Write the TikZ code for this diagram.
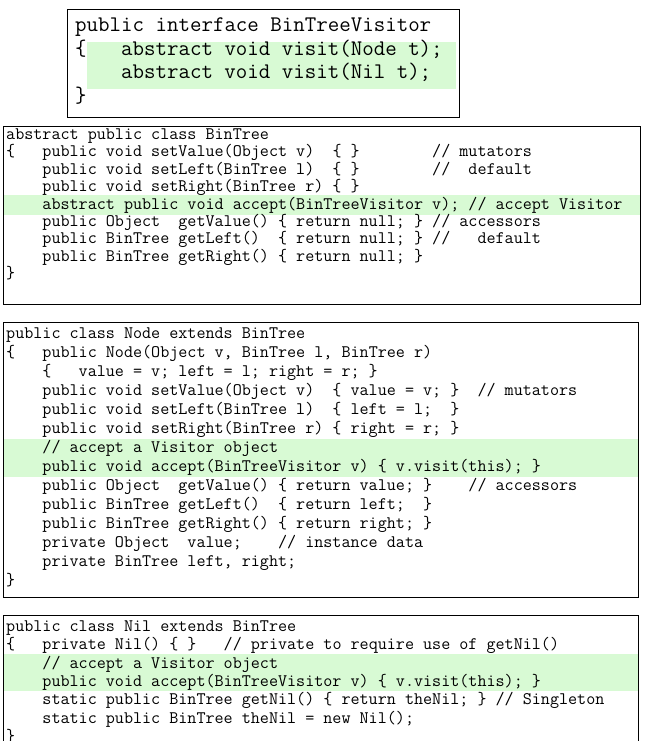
\documentclass[tikz,border=0pt]{standalone}
\usepackage{fontspec}
\definecolor{hlgreen}{RGB}{216,250,212}
\tikzset{
  codebox/.style={draw=black, line width=0.9pt},
  hlband/.style={fill=hlgreen, draw=none},
  code/.style={anchor=base west, inner sep=0pt, font=\fontsize{17.6}{19}\selectfont\ttfamily},
  bigcode/.style={anchor=base west, inner sep=0pt, font=\fontsize{22.3}{23.5}\selectfont\ttfamily},
}
\begin{document}
\begin{tikzpicture}[x=1pt,y=-1pt]
\useasboundingbox (0,0) rectangle (645,741);
% ---------- Box 1: BinTreeVisitor ----------
\fill[hlband] (87,42) rectangle (456,89);
\draw[codebox] (67,9) rectangle (459,117);
\node[bigcode] (v0) at (75,32) {public~interface~BinTreeVisitor};
\node[bigcode] (v1) at (75,55.5) {\{~~~abstract~void~visit(Node~t);};
\node[bigcode] (v2) at (75,79) {~~~~abstract~void~visit(Nil~t);};
\node[bigcode] (v3) at (75,102.5) {\}};
% ---------- Box 2: BinTree ----------
\fill[hlband] (3,194.5) rectangle (640,214.5);
\draw[codebox] (3,126) rectangle (640,304);
\node[code] (a0) at (6,139.5) {abstract~public~class~BinTree};
\node[code] (a1) at (6,156.9) {\{~~~public~void~setValue(Object~v)~~\{~\}~~~~~~~~//~mutators};
\node[code] (a2) at (6,174.3) {~~~~public~void~setLeft(BinTree~l)~~\{~\}~~~~~~~~//~~default};
\node[code] (a3) at (6,191.7) {~~~~public~void~setRight(BinTree~r)~\{~\}};
\node[code] (a4) at (6,209.1) {~~~~abstract~public~void~accept(BinTreeVisitor~v);~//~accept~Visitor};
\node[code] (a5) at (6,226.5) {~~~~public~Object~~getValue()~\{~return~null;~\}~//~accessors};
\node[code] (a6) at (6,243.9) {~~~~public~BinTree~getLeft()~~\{~return~null;~\}~//~~~default};
\node[code] (a7) at (6,261.3) {~~~~public~BinTree~getRight()~\{~return~null;~\}};
\node[code] (a8) at (6,278.7) {\}};
% ---------- Box 3: Node ----------
\fill[hlband] (3,438.5) rectangle (638,476.5);
\draw[codebox] (3,322) rectangle (638,597);
\node[code] (n0) at (6,338) {public~class~Node~extends~BinTree};
\node[code] (n1) at (6,357) {\{~~~public~Node(Object~v,~BinTree~l,~BinTree~r)};
\node[code] (n2) at (6,376) {~~~~\{~~~value~=~v;~left~=~l;~right~=~r;~\}};
\node[code] (n3) at (6,395) {~~~~public~void~setValue(Object~v)~~\{~value~=~v;~\}~~//~mutators};
\node[code] (n4) at (6,414) {~~~~public~void~setLeft(BinTree~l)~~\{~left~=~l;~~\}};
\node[code] (n5) at (6,433) {~~~~public~void~setRight(BinTree~r)~\{~right~=~r;~\}};
\node[code] (n6) at (6,452) {~~~~//~accept~a~Visitor~object};
\node[code] (n7) at (6,471) {~~~~public~void~accept(BinTreeVisitor~v)~\{~v.visit(this);~\}};
\node[code] (n8) at (6,490) {~~~~public~Object~~getValue()~\{~return~value;~\}~~~~//~accessors};
\node[code] (n9) at (6,509) {~~~~public~BinTree~getLeft()~~\{~return~left;~~\}};
\node[code] (n10) at (6,528) {~~~~public~BinTree~getRight()~\{~return~right;~\}};
\node[code] (n11) at (6,547) {~~~~private~Object~~value;~~~~//~instance~data};
\node[code] (n12) at (6,566) {~~~~private~BinTree~left,~right;};
\node[code] (n13) at (6,585) {\}};
% ---------- Box 4: Nil ----------
\fill[hlband] (3,653.5) rectangle (638,691);
\draw[codebox] (3,615) rectangle (638,770);
\node[code] (z0) at (6,631.5) {public~class~Nil~extends~BinTree};
\node[code] (z1) at (6,649.8) {\{~~~private~Nil()~\{~\}~~~//~private~to~require~use~of~getNil()};
\node[code] (z2) at (6,668.1) {~~~~//~accept~a~Visitor~object};
\node[code] (z3) at (6,686.4) {~~~~public~void~accept(BinTreeVisitor~v)~\{~v.visit(this);~\}};
\node[code] (z4) at (6,704.7) {~~~~static~public~BinTree~getNil()~\{~return~theNil;~\}~//~Singleton};
\node[code] (z5) at (6,723) {~~~~static~public~BinTree~theNil~=~new~Nil();};
\node[code] (z6) at (6,741.3) {\}};
\end{tikzpicture}
\end{document}
